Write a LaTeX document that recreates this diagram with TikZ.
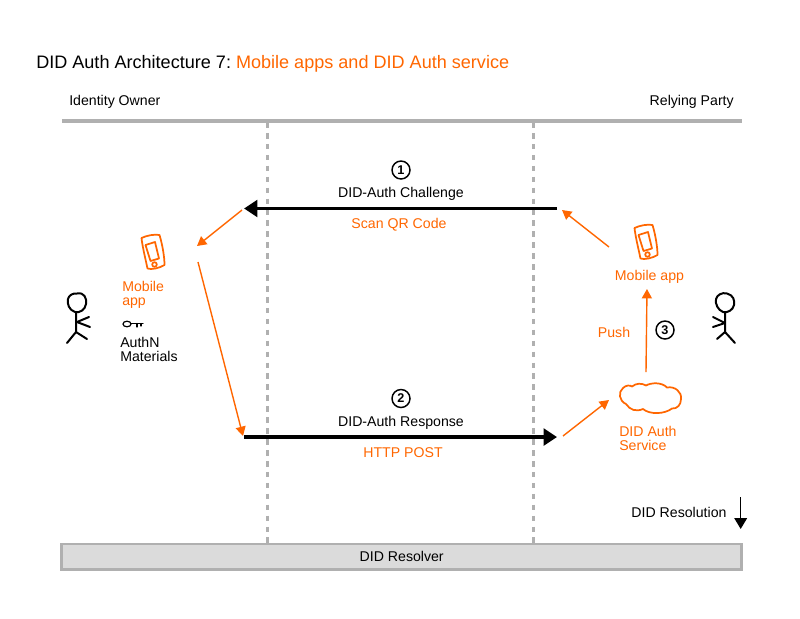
\documentclass[tikz,border=0pt]{standalone}
\usepackage{fontspec}
\setmainfont{Liberation Sans}
\usetikzlibrary{arrows.meta}
\definecolor{org}{HTML}{FF6600}
\definecolor{gr}{HTML}{B0B0B0}
\tikzset{
 txt/.style={inner sep=0pt,font=\fontsize{10.6pt}{10.6pt}\selectfont,anchor=base},
 txtl/.style={txt,anchor=base west},
 multi/.style={txt,anchor=north west,align=left,font=\fontsize{10.6pt}{10.6pt}\selectfont},
 otxt/.style={text=org},
 sep/.style={gr,line width=2.4pt,dash pattern=on 4.2pt off 4pt},
 orgarrow/.style={org,line width=1.05pt,-{Triangle[length=7pt,width=7.5pt]}},
 blkarrow/.style={black,line width=2.4pt,-{Triangle[length=10pt,width=12.5pt]}},
 num/.style={circle,draw=black,line width=1.1pt,minimum size=13.5pt,inner sep=0pt,font=\fontsize{9.5pt}{9.5pt}\bfseries\selectfont},
 sketch/.style={line width=1.3pt,line cap=round,line join=round},
}
\newcommand{\phoneicon}[2]{%
 \begin{scope}[shift={(#1,#2)},sketch,org]
  \draw (0,3) .. controls (5,0.5) and (13,-1) .. (18,0) .. controls (21,10) and (23,22) .. (23,30) .. controls (18,33) and (10,35) .. (6,33.5) .. controls (4,24) and (1,12) .. (0,3) -- cycle;
  \draw (4,10) -- (13.5,7) -- (17.5,23.5) -- (9,26) -- cycle;
  \draw (13,29.5) circle (2.3);
 \end{scope}}
\begin{document}
\begin{tikzpicture}[x=0.75pt,y=-0.75pt]
\useasboundingbox (0,0) rectangle (800,618);
% title
\node[inner sep=0pt,anchor=base west,font=\fontsize{13.55pt}{13.55pt}\selectfont] (title) at (36,68.5) {DID Auth Architecture 7:\hspace{-1.3pt} \textcolor{org}{Mobile apps and DID Auth service}};
\node[txtl] (owner) at (69,105) {Identity Owner};
\node[txt,anchor=base east] (party) at (734,105) {Relying Party};
% rules
\coordinate (ruleL) at (62,121);
\coordinate (ruleR) at (741.5,121);
\draw[gr,line width=2.4pt] (ruleL) -- (ruleR);
\coordinate (d1t) at (267.5,122); \coordinate (d1b) at (267.5,543);
\coordinate (d2t) at (533.5,122); \coordinate (d2b) at (533.5,543);
\draw[sep] (d1t) -- (d1b);
\draw[sep] (d2t) -- (d2b);
% resolver
\node[draw=gr,fill=black!14,line width=2.2pt,minimum width=510pt,minimum height=18.8pt,inner sep=0pt,outer sep=0pt,font=\fontsize{10.6pt}{10.6pt}\selectfont] (resolver) at (401.7,556.5) {DID Resolver};
% messages
\node[num] (n1) at (401,170) {1};
\node[txt] (chal) at (401,197) {DID-Auth Challenge};
\node[txt,otxt] (scan) at (399,228) {Scan QR Code};
\node[num] (n2) at (401,398.5) {2};
\node[txt] (resp) at (401,426) {DID-Auth Response};
\node[txt,otxt] (post) at (403,457) {HTTP POST};
\coordinate (a1s) at (557,208.5); \coordinate (a1e) at (244,208.5);
\draw[blkarrow] (a1s) -- (a1e);
\coordinate (a2s) at (244,437); \coordinate (a2e) at (557,437);
\draw[blkarrow] (a2s) -- (a2e);
% left side
\phoneicon{141.5}{235}
\node[multi,otxt] (mob) at (122,280.5) {Mobile\\app};
\node[multi] (authn) at (120,337) {AuthN\\Materials};
\begin{scope}[line width=0.9pt,line cap=round]
 \draw (127,324) ellipse (4 and 2.8);
 \draw (131,323.5) -- (143,323.5) (137,323.5) -- (137,327) (141,323.5) -- (141,326);
\end{scope}
\begin{scope}[sketch,black,line width=1.5pt]
 \draw (77,293.5) .. controls (84,292) and (87,298) .. (86,304) .. controls (85,310) and (80,313) .. (75,312) .. controls (69,310) and (67,304) .. (68,299) .. controls (69,295) and (73,293) .. (77,293.5) -- cycle;
 \draw (76,313) -- (76,332) (76,332) -- (67,343) (76,332) -- (87,339);
 \draw (77,322) -- (89,317) (77,322) -- (90,327);
\end{scope}
% right side
\phoneicon{634.5}{225}
\node[txt,otxt] (mobr) at (649.5,280) {Mobile app};
\begin{scope}[sketch,black,line width=1.5pt]
 \draw (727,293.5) .. controls (733,295) and (735,300) .. (734,305) .. controls (733,310) and (728,313) .. (723,312) .. controls (718,310) and (715,304) .. (716,299) .. controls (717,295) and (722,292) .. (727,293.5) -- cycle;
 \draw (725,313) -- (725,332) (725,332) -- (717,339) (725,332) -- (735,343);
 \draw (725,323) -- (713,317) (725,323) -- (713,327);
\end{scope}
\node[txt,otxt] (push) at (614,337) {Push};
\node[num] (n3) at (665,330) {3};
% cloud
\draw[sketch,org,line width=1.3pt] (626,404)
 .. controls (619,401) and (618,392) .. (623,388)
 .. controls (626,385) and (630,385) .. (632,386.5)
 .. controls (636,383) and (642,383) .. (646,385.5)
 .. controls (651,382.5) and (662,382) .. (667,387.5)
 .. controls (675,386) and (682,392) .. (681,399)
 .. controls (681,405) and (677,409) .. (672,408.5)
 .. controls (665,414) and (650,415) .. (643,409)
 .. controls (636,412) and (630,410) .. (626,404) -- cycle;
\node[multi,otxt] (svc) at (619,426) {DID Auth\\Service};
% orange arrows
\coordinate (o1s) at (242,210); \coordinate (o1e) at (197,246);
\draw[orgarrow] (o1s) -- (o1e);
\coordinate (o2s) at (198,262); \coordinate (o2e) at (243,436);
\draw[orgarrow] (o2s) -- (o2e);
\coordinate (o3s) at (563,436); \coordinate (o3e) at (609,400);
\draw[orgarrow] (o3s) -- (o3e);
\coordinate (o4s) at (646,372); \coordinate (o4e) at (647,289);
\draw[orgarrow] (o4s) -- (o4e);
\coordinate (o5s) at (609,247); \coordinate (o5e) at (562,210);
\draw[orgarrow] (o5s) -- (o5e);
% resolution
\node[txt] (res) at (679,517) {DID Resolution};
\coordinate (rs) at (740.7,497); \coordinate (re) at (740.7,529);
\draw[black,line width=1.1pt,-{Triangle[length=8.2pt,width=9.5pt]}] (rs) -- (re);
\end{tikzpicture}
\end{document}
